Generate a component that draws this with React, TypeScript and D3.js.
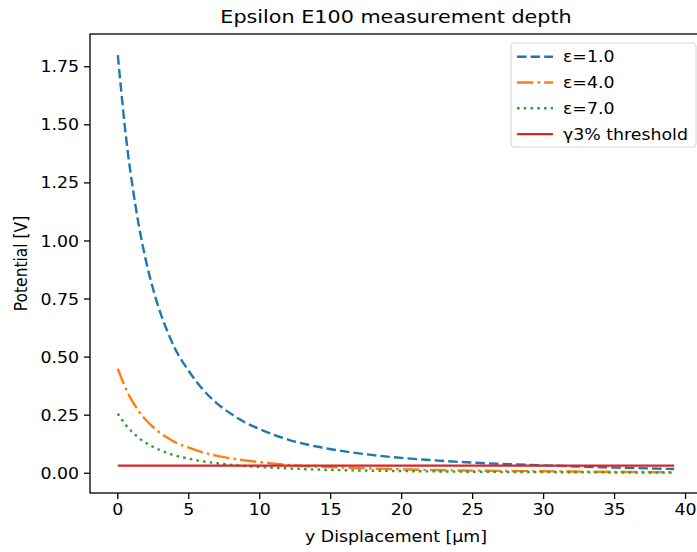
import React from "react";
import * as d3 from "d3";

const xs = [0, 0.25, 0.5, 0.75, 1, 1.5, 2, 2.5, 3, 3.5, 4, 5, 6, 7, 8, 9, 10, 12, 14, 16, 18, 20, 22, 24, 26, 28, 30, 32, 34, 36, 38, 39.2];
const eps1 = [1.8, 1.64, 1.49, 1.36, 1.25, 1.06, 0.91, 0.79, 0.69, 0.61, 0.54, 0.44, 0.36, 0.3, 0.255, 0.218, 0.19, 0.145, 0.115, 0.094, 0.078, 0.066, 0.057, 0.049, 0.043, 0.038, 0.034, 0.03, 0.026, 0.023, 0.02, 0.018];
const eps4 = [0.45, 0.41, 0.373, 0.34, 0.313, 0.265, 0.228, 0.198, 0.173, 0.153, 0.135, 0.11, 0.09, 0.075, 0.064, 0.055, 0.048, 0.036, 0.029, 0.024, 0.02, 0.017, 0.014, 0.012, 0.011, 0.0095, 0.0085, 0.0075, 0.0065, 0.0058, 0.005, 0.0045];
const eps7 = [0.257, 0.234, 0.213, 0.194, 0.179, 0.151, 0.13, 0.113, 0.099, 0.087, 0.077, 0.063, 0.051, 0.043, 0.036, 0.031, 0.027, 0.021, 0.016, 0.013, 0.011, 0.0094, 0.0081, 0.007, 0.0061, 0.0054, 0.0049, 0.0043, 0.0037, 0.0033, 0.0029, 0.0026];
const thresholdX = [0, 39.2];
const thresholdY = [0.033, 0.033];
const xTicks = [0, 5, 10, 15, 20, 25, 30, 35, 40];
const yTicks = [0, 0.25, 0.5, 0.75, 1.0, 1.25, 1.5, 1.75];
const labels = ["ε=1.0", "ε=4.0", "ε=7.0", "γ3% threshold"];
const colors = ["#1f77b4", "#ff7f0e", "#2ca02c", "#d62728"];
const dashes = ["9.5,4.1", "16.4,4.1,2.6,4.1", "2.56,4.2", ""];

const W = 697, H = 552;
const L = 90, R = 702, T = 34, B = 493;
const FONT = "DejaVu Sans, sans-serif";
const SX = 1.12;

function Txt(props: { x: number; y: number; anchor?: "start" | "middle" | "end"; size: number; rotate?: boolean; dy?: string; children: React.ReactNode }) {
  const { x, y, anchor = "start", size, rotate, dy, children } = props;
  const tf = rotate ? `translate(${x},${y}) rotate(-90) scale(1,${SX})` : `translate(${x},${y}) scale(${SX},1)`;
  return (
    <g transform={tf}>
      <text x={0} y={0} dy={dy} textAnchor={anchor} fontSize={size} fill="#000">{children}</text>
    </g>
  );
}

export default function App() {
  const x = d3.scaleLinear().domain([-1.96, 41.16]).range([L, R]);
  const y = d3.scaleLinear().domain([-0.085, 1.891]).range([B, T]);
  const line = d3.line<[number, number]>().x(d => x(d[0])).y(d => y(d[1])).curve(d3.curveMonotoneX);
  const series: [number, number][][] = [
    xs.map((v, i) => [v, eps1[i]]),
    xs.map((v, i) => [v, eps4[i]]),
    xs.map((v, i) => [v, eps7[i]]),
    thresholdX.map((v, i) => [v, thresholdY[i]]),
  ];
  const lw = 2.4;
  const legX = 511, legY = 43, rowH = 25.8;
  return (
    <svg width={W} height={H} style={{ position: "absolute", left: 0, top: 0, background: "#fff" }} fontFamily={FONT}>
      <rect x={0} y={0} width={W} height={H} fill="#fff" />
      <defs>
        <clipPath id="plotclip"><rect x={L} y={T} width={R - L} height={B - T} /></clipPath>
      </defs>
      <g clipPath="url(#plotclip)">
        {series.map((s, i) => (
          <path key={i} d={line(s) || ""} fill="none" stroke={colors[i]} strokeWidth={lw}
            strokeDasharray={dashes[i] || undefined} />
        ))}
      </g>
      <rect x={L} y={T} width={R - L} height={B - T} fill="none" stroke="#000" strokeWidth={1.3} />
      {xTicks.map(t => (
        <g key={t}>
          <line x1={x(t)} x2={x(t)} y1={B} y2={B + 6} stroke="#000" strokeWidth={1.3} />
          <Txt x={x(t)} y={B + 22} anchor="middle" size={15.5}>{t}</Txt>
        </g>
      ))}
      {yTicks.map(t => (
        <g key={t}>
          <line x1={L - 6} x2={L} y1={y(t)} y2={y(t)} stroke="#000" strokeWidth={1.3} />
          <Txt x={L - 11} y={y(t)} dy="0.36em" anchor="end" size={15.5}>{t.toFixed(2)}</Txt>
        </g>
      ))}
      <Txt x={(L + R) / 2} y={542} anchor="middle" size={15.5}>y Displacement [μm]</Txt>
      <Txt x={27} y={(T + B) / 2} anchor="middle" size={15.5} rotate>Potential [V]</Txt>
      <Txt x={(L + R) / 2} y={23} anchor="middle" size={18.5}>Epsilon E100 measurement depth</Txt>
      <rect x={legX} y={legY} width={185} height={104} rx={3} fill="#fff" fillOpacity={0.8} stroke="#d5d5d5" strokeWidth={1} />
      {labels.map((lab, i) => {
        const cy = legY + 13.7 + i * rowH;
        return (
          <g key={lab}>
            <line x1={517} x2={553} y1={cy} y2={cy} stroke={colors[i]} strokeWidth={lw} strokeDasharray={dashes[i] || undefined} />
            <Txt x={563} y={cy} dy="0.36em" size={15.5}>{lab}</Txt>
          </g>
        );
      })}
    </svg>
  );
}
